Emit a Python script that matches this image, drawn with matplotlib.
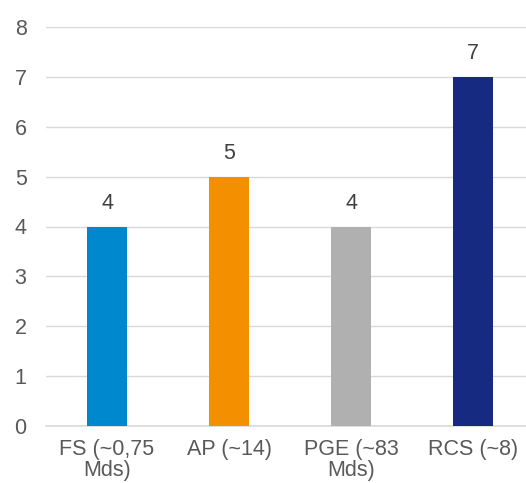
import matplotlib
matplotlib.use('Agg')
from matplotlib import pyplot as plt

categories = ['FS (~0,75\nMds)', 'AP (~14)', 'PGE (~83\nMds)', 'RCS (~8)']
values = [4, 5, 4, 7]
colors = ['#0088ce', '#f39000', '#b0b0b0', '#152a80']

plt.rcParams['font.family'] = ['Liberation Sans', 'DejaVu Sans']
text_col = '#595959'
fs = 15.5

fig = plt.figure(figsize=(5.26, 4.83), dpi=100)
ax = fig.add_axes([46/526, 57/483, 488/526, 399/483])
x = range(len(categories))
ax.bar(x, values, width=0.33, color=colors, zorder=3)
for i, v in enumerate(values):
    ax.annotate(str(v), (i, v), xytext=(0, 9), textcoords='offset points',
                ha='center', va='bottom', fontsize=fs, color='#404040')

ax.set_xlim(-0.5, 3.5)
ax.set_ylim(0, 8)
ax.set_yticks(range(9))
ax.set_xticks(list(x))
ax.set_xticklabels(categories, fontsize=fs, color=text_col, linespacing=1.05)
ax.tick_params(axis='y', labelsize=fs, labelcolor=text_col, length=0, pad=14)
ax.tick_params(axis='x', length=0, pad=9)
ax.grid(axis='y', color='#d9d9d9', linewidth=1, zorder=0)
for s in ['top', 'right', 'left']:
    ax.spines[s].set_visible(False)
ax.spines['bottom'].set_color('#d9d9d9')
ax.spines['bottom'].set_linewidth(1.2)

fig.savefig('out.png', dpi=100)
